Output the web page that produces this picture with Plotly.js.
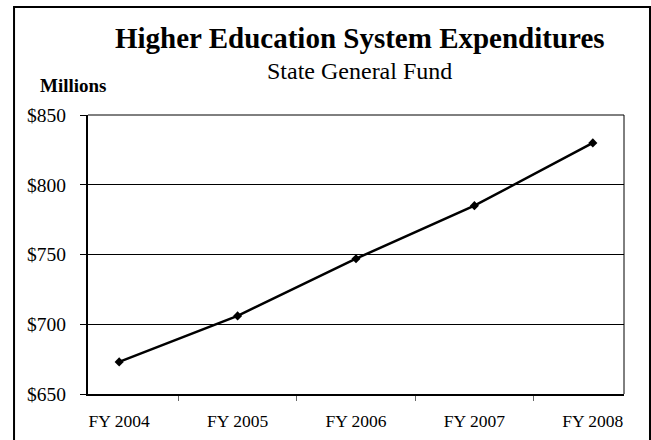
<!DOCTYPE html>
<html>
<head>
<meta charset="utf-8">
<script src="https://cdn.plot.ly/plotly-3.0.1.min.js"></script>
<style>
html,body{margin:0;padding:0;background:#fff;}
#chart{width:651px;height:440px;}
</style>
</head>
<body>
<div id="chart"></div>
<script>
const categories = ["FY 2004", "FY 2005", "FY 2006", "FY 2007", "FY 2008"];
const expenditures = [673, 706, 747, 785, 830];
const yTickValues = [650, 700, 750, 800, 850];
const titleText = "Higher Education System Expenditures";
const subtitleText = "State General Fund";
const unitText = "Millions";

const serif = "Liberation Serif, Times New Roman, serif";

const trace = {
  x: categories,
  y: expenditures,
  type: "scatter",
  mode: "lines+markers",
  line: {color: "#000", width: 2.5},
  marker: {symbol: "diamond", size: 7, color: "#000"},
  hoverinfo: "x+y"
};

const layout = {
  width: 651,
  height: 440,
  margin: {l: 88, r: 27, t: 115, b: 46},
  paper_bgcolor: "#fff",
  plot_bgcolor: "#fff",
  showlegend: false,
  font: {family: serif, color: "#000"},
  xaxis: {
    type: "category",
    tickson: "boundaries",
    ticks: "outside",
    ticklen: 5,
    tickwidth: 1,
    tickcolor: "#666",
    showline: true,
    linecolor: "#000",
    linewidth: 2,
    showgrid: false,
    tickfont: {family: serif, size: 17.5, color: "#000"},
    ticklabelstandoff: 10,
    fixedrange: true
  },
  yaxis: {
    range: [650, 850],
    tickmode: "array",
    tickvals: yTickValues,
    ticktext: yTickValues.map(v => "$" + v),
    ticks: "outside",
    ticklen: 6,
    tickwidth: 1,
    tickcolor: "#000",
    showline: true,
    linecolor: "#000",
    linewidth: 2,
    showgrid: true,
    gridcolor: "#000",
    gridwidth: 1,
    zeroline: false,
    tickfont: {family: serif, size: 19.5, color: "#000"},
    ticklabelstandoff: 10,
    fixedrange: true
  },
  shapes: [
    {type: "line", xref: "paper", yref: "paper", x0: 1, x1: 1, y0: 0, y1: 1,
     line: {color: "#000", width: 1}},
    {type: "line", xref: "paper", yref: "paper", x0: 0, x1: 1, y0: 1, y1: 1,
     line: {color: "#000", width: 1}},
    {type: "rect", xref: "paper", yref: "paper", x0: -0.138, x1: 1.0485, y0: -0.183, y1: 1.387,
     line: {color: "#000", width: 2}, fillcolor: "rgba(0,0,0,0)"}
  ],
  annotations: [
    {text: "<b>" + titleText + "</b>", xref: "paper", yref: "paper", x: 0.507, y: 1.276,
     xanchor: "center", yanchor: "middle", showarrow: false,
     font: {family: serif, size: 29, color: "#000"}},
    {text: subtitleText, xref: "paper", yref: "paper", x: 0.507, y: 1.158,
     xanchor: "center", yanchor: "middle", showarrow: false,
     font: {family: serif, size: 24, color: "#000"}},
    {text: "<b>" + unitText + "</b>", xref: "paper", yref: "paper", x: -0.027, y: 1.104,
     xanchor: "center", yanchor: "middle", showarrow: false,
     font: {family: serif, size: 19, color: "#000"}}
  ]
};

Plotly.newPlot("chart", [trace], layout, {displayModeBar: false, staticPlot: true});
</script>
</body>
</html>
